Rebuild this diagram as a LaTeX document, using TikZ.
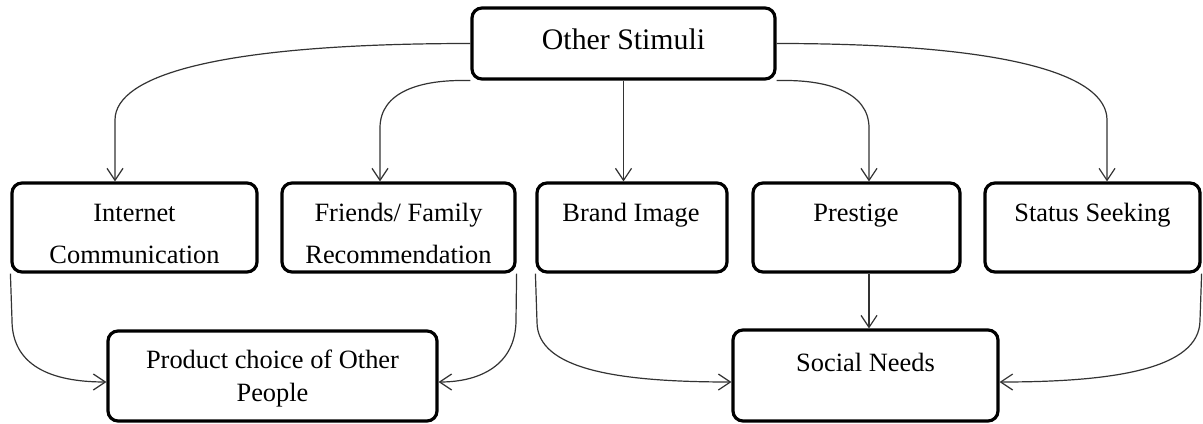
\documentclass[tikz,border=0pt]{standalone}
\usepackage{fontspec}
\setmainfont{Liberation Serif}
\usetikzlibrary{arrows.meta,calc}
\begin{document}
\begin{tikzpicture}[x=0.5pt,y=-0.5pt,
  box/.style={draw=black, line width=1.6pt, rounded corners=5pt, inner sep=0pt, fill=white},
  lbl/.style={inner sep=0pt, align=center, anchor=base, font=\fontsize{13.2}{21}\selectfont},
  link/.style={draw=black!80, line width=0.6pt, -{Straight Barb[length=6pt,width=8pt]}},
]
\useasboundingbox (0,0) rectangle (1203,423);

% boxes
\node[box, minimum width=151.5pt, minimum height=35.5pt] (os) at (623.5,43.5) {};
\node[box, minimum width=122.5pt, minimum height=44.5pt] (int) at (134.5,227.5) {};
\node[box, minimum width=116.5pt, minimum height=44.5pt] (fam) at (398.5,227.5) {};
\node[box, minimum width=95pt, minimum height=44.5pt] (brand) at (632,227.5) {};
\node[box, minimum width=103.5pt, minimum height=44.5pt] (pres) at (856.5,227.5) {};
\node[box, minimum width=107.5pt, minimum height=44.5pt] (stat) at (1092.5,227.5) {};
\node[box, minimum width=164.5pt, minimum height=45pt] (prod) at (272.5,376) {};
\node[box, minimum width=132.5pt, minimum height=45.5pt] (soc) at (865.5,375.5) {};

% labels (base anchor = baseline of the last line)
\node[lbl, font=\fontsize{14.9}{18}\selectfont] (osl) at (623.5,49) {Other Stimuli};
\node[lbl] (intl) at (134.5,263) {Internet\\Communication};
\node[lbl] (faml) at (398.5,263) {Friends/ Family\\Recommendation};
\node[lbl] (brandl) at (631,221) {Brand Image};
\node[lbl] (presl) at (856,221) {Prestige};
\node[lbl] (statl) at (1092.5,221) {Status Seeking};
\node[lbl, font=\fontsize{13.2}{16.5}\selectfont] (prodl) at (272.5,401.5) {Product choice of Other\\People};
\node[lbl] (socl) at (865.5,371) {Social Needs};

% bends of the connectors
\coordinate (a1) at (115,120);
\coordinate (a2) at (380,128);
\coordinate (a4) at (869,128);
\coordinate (a5) at (1107,120);
\coordinate (b1) at (12,320);
\coordinate (b2) at (516,320);
\coordinate (b3) at (537,322);
\coordinate (b4) at (1200,320);

% from the top box
\draw[link] (os.west) .. controls (220,43.5) and (115,75) .. (a1) -- (a1 |- int.north);
\draw[link] (os.south west) .. controls (420,79) and (380,92) .. (a2) -- (a2 |- fam.north);
\draw[link] (os.south) -- (os.south |- brand.north);
\draw[link] (os.south east) .. controls (827,79) and (869,92) .. (a4) -- (a4 |- pres.north);
\draw[link] (os.east) .. controls (1010,43.5) and (1107,75) .. (a5) -- (a5 |- stat.north);

% to the bottom boxes
\draw[link] (int.south west) -- (b1) .. controls (12,365) and (50,382) .. ($(prod.west)+(0,6)$);
\draw[link] (fam.south east) -- (b2) .. controls (516,365) and (480,382) .. ($(prod.east)+(0,6)$);
\draw[link] (brand.south west) -- (b3) .. controls (537,370) and (620,382) .. ($(soc.west)+(0,6.5)$);
\draw[link] (pres.south -| a4) -- (a4 |- soc.north);
\draw[link] (stat.south east) -- (b4) .. controls (1200,370) and (1110,382) .. ($(soc.east)+(0,6.5)$);
\end{tikzpicture}
\end{document}
